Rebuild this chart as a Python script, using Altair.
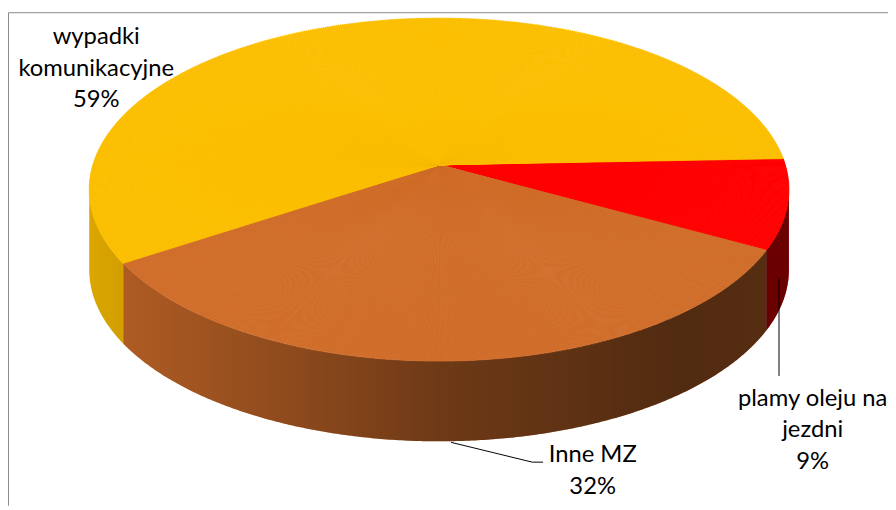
import math
import altair as alt
import pandas as pd

# ---------------- data ----------------
categories = ["plamy oleju na jezdni", "Inne MZ", "wypadki komunikacyjne"]
values = [9, 32, 59]
colors = ["#FF0000", "#D06D2A", "#FBBE00"]
label_lines = [["plamy oleju na", "jezdni"], ["Inne MZ"], ["wypadki", "komunikacyjne"]]

# ---------------- layout (px, chart coordinates) ----------------
W, H = 888, 500
VX, VY = 435, 156          # apex of the slices (projected pie centre)
EY = 181                   # centre of the projected rim ellipse
OFF = EY - VY
RA, RB = 353, 173          # rim ellipse half axes
DEPTH = 81                 # pie thickness
K = 0.45                   # perspective flattening of angles
PHI0 = -2.3                # first slice start angle (deg, clockwise from 3 o'clock)
STEP = 0.4
label_pos = [(812, 399), (590, 456), (89, 34)]
FONT = "Lato"

S_R = math.degrees(math.atan2(OFF, RA))
S_L = 180 - S_R


def screen_angle(p):
    r = f"(({p})*PI/180)"
    return (f"({p}) + atan(({K}-1)*sin({r})*cos({r}) / "
            f"(pow(cos({r}),2) + {K}*pow(sin({r}),2))) * 180/PI")


def rim_radius(s):
    dx = f"cos(({s})*PI/180)"
    dy = f"sin(({s})*PI/180)"
    qa = f"(pow({dx},2)/{RA**2} + pow({dy},2)/{RB**2})"
    qb = f"(-2*{dy}*{OFF}/{RB**2})"
    qc = f"({OFF**2}/{RB**2} - 1)"
    return f"(-{qb} + sqrt({qb}*{qb} - 4*{qa}*{qc})) / (2*{qa})"


src = pd.DataFrame({"category": categories, "value": values,
                    "order": list(range(len(categories)))})
cscale = alt.Scale(domain=categories, range=colors)

base = (
    alt.Chart(src)
    .transform_window(cum="sum(value)", sort=[alt.SortField("order")], frame=[None, 0])
    .transform_joinaggregate(total="sum(value)")
    .transform_calculate(p0=f"{PHI0} + (datum.cum - datum.value) / datum.total * 360")
    .transform_calculate(p1=f"{PHI0} + datum.cum / datum.total * 360")
    .transform_calculate(n=f"ceil((datum.p1 - datum.p0) / {STEP})")
)

# ---------- top face: thin wedges reaching the rim ellipse ----------
top = (
    base.transform_calculate(idx="sequence(0, datum.n)")
    .transform_flatten(["idx"])
    .transform_calculate(pa=f"datum.p0 + datum.idx * {STEP}")
    .transform_calculate(pb=f"min(datum.p0 + (datum.idx + 1) * {STEP}, datum.p1)")
    .transform_calculate(sa=screen_angle("datum.pa"))
    .transform_calculate(sb=screen_angle("datum.pb"))
    .transform_calculate(r=rim_radius("(datum.sa + datum.sb) / 2"))
    .transform_calculate(t0="datum.sa + 90")
    .transform_calculate(t1="datum.sb + 90")
    .mark_arc(strokeWidth=0.8)
    .encode(
        theta=alt.Theta("t0:Q", stack=None,
                        scale=alt.Scale(domain=[0, 360], range=[0, 2 * math.pi])),
        theta2="t1:Q",
        radius=alt.Radius("r:Q", scale=None),
        x=alt.value(VX),
        y=alt.value(VY),
        color=alt.Color("category:N", scale=cscale, legend=None),
        stroke=alt.Stroke("category:N", scale=cscale, legend=None),
    )
)

# ---------- front side wall ----------
side = (
    base.transform_calculate(idx="sequence(0, datum.n + 1)")
    .transform_flatten(["idx"])
    .transform_calculate(pp=f"min(datum.p0 + datum.idx * {STEP}, datum.p1)")
    .transform_calculate(s=screen_angle("datum.pp"))
    .transform_calculate(r=rim_radius("datum.s"))
    .transform_calculate(px=f"{VX} + datum.r * cos(datum.s * PI / 180)")
    .transform_calculate(py=f"{VY} + datum.r * sin(datum.s * PI / 180)")
    .transform_calculate(py2=f"datum.py + {DEPTH}")
    .transform_calculate(sn="((datum.s % 360) + 360) % 360")
    .transform_filter(f"datum.sn >= {S_R} && datum.sn <= {S_L}")
)

side_fill = side.mark_area(orient="vertical").encode(
    x=alt.X("px:Q", scale=None),
    y=alt.Y("py:Q", scale=None, stack=None),
    y2="py2:Q",
    color=alt.Color("category:N", scale=cscale, legend=None),
)

shade = alt.Gradient(
    gradient="linear",
    stops=[
        alt.GradientStop(color="rgba(0,0,0,0.13)", offset=0),
        alt.GradientStop(color="rgba(0,0,0,0.33)", offset=0.3),
        alt.GradientStop(color="rgba(0,0,0,0.47)", offset=0.5),
        alt.GradientStop(color="rgba(0,0,0,0.61)", offset=0.85),
        alt.GradientStop(color="rgba(0,0,0,0.58)", offset=1),
    ],
    x1=0, x2=1, y1=0, y2=0,
)
side_shade = side.mark_area(orient="vertical", color=shade).encode(
    x=alt.X("px:Q", scale=None),
    y=alt.Y("py:Q", scale=None, stack=None),
    y2="py2:Q",
)

# ---------- labels ----------
total = sum(values)
lab = pd.DataFrame({
    "label": ["\n".join(lines + [f"{round(v / total * 100)}%"])
              for lines, v in zip(label_lines, values)],
    "lx": [p[0] for p in label_pos],
    "ly": [p[1] for p in label_pos],
})
text = alt.Chart(lab).mark_text(
    font=FONT, fontSize=24, lineHeight=32, align="center",
    baseline="alphabetic", lineBreak="\n", color="#000000",
).encode(
    x=alt.X("lx:Q", scale=None),
    y=alt.Y("ly:Q", scale=None),
    text="label:N",
)

one = pd.DataFrame({"k": [0]})


def seg(x1, y1, x2, y2, color="#000000"):
    return alt.Chart(one).mark_rule(color=color, strokeWidth=1).encode(
        x=alt.value(x1), y=alt.value(y1), x2=alt.value(x2), y2=alt.value(y2)
    )


leaders = [
    seg(447, 436, 529, 456),
    seg(529, 456, 540, 456),
    seg(778, 270, 778, 369),
]
border = [
    seg(0.5, 2.5, 0.5, H, "#898989"),
    seg(0.5, 2.5, W, 2.5, "#898989"),
]

chart = alt.layer(
    side_fill, side_shade, top, *leaders, text, *border
).properties(
    width=W, height=H, padding=0,
    autosize=alt.AutoSizeParams(type="none"),
    background="white",
).configure_view(stroke=None)

chart.save("out.html", embed_options={"renderer": "svg", "actions": False})
